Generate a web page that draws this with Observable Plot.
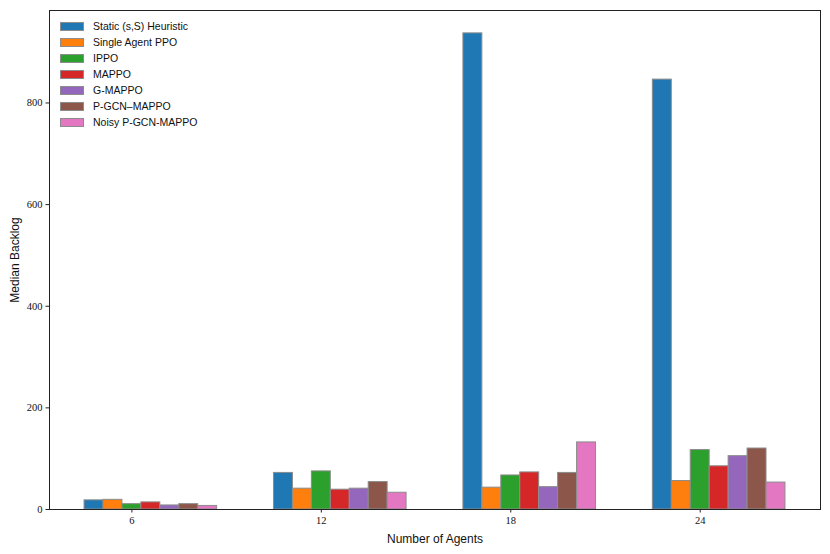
<!DOCTYPE html>
<html><head><meta charset="utf-8">
<script src="https://cdn.jsdelivr.net/npm/d3@7"></script>
<script src="https://cdn.jsdelivr.net/npm/@observablehq/plot@0.6"></script>
<style>
body{margin:0;background:#fff}
#wrap{position:relative;width:830px;height:554px}
.legend{position:absolute;left:60px;top:18px;font-family:"Liberation Sans",sans-serif;font-size:10.5px;color:#111}
.row{display:flex;align-items:center;height:16px}
.sw{width:22px;height:7px;border:1px solid #8c8c8c;margin-right:9px}
svg g[aria-label$="tick label"] text{font-family:"Liberation Serif",serif;font-size:10.5px}
svg g[aria-label$="axis label"] text{font-family:"Liberation Sans",sans-serif;font-size:12px}
</style></head><body><div id="wrap"></div>
<script>
const agents = [6, 12, 18, 24];
const methods = ["Static (s,S) Heuristic", "Single Agent PPO", "IPPO", "MAPPO", "G-MAPPO", "P-GCN\u2013MAPPO", "Noisy P-GCN-MAPPO"];
const colors = ["#1f77b4", "#ff7f0e", "#2ca02c", "#d62728", "#9467bd", "#8c564b", "#e377c2"];
const staticSS = [18, 72, 937, 846];
const singlePPO = [19, 41, 43, 56];
const ippo = [10.5, 75, 67, 117];
const mappo = [14, 39, 73, 85];
const gMappo = [8, 41, 44, 105];
const pgcnMappo = [10.5, 54, 72, 120];
const noisyPgcn = [7, 33, 132, 53];
const yTicks = [0, 200, 400, 600, 800];

const series = [staticSS, singlePPO, ippo, mappo, gMappo, pgcnMappo, noisyPgcn];
const barWidth = 0.6;
const data = [];
series.forEach((vals, i) => vals.forEach((v, j) => data.push({method: methods[i], idx: i, agents: agents[j], value: v})));

const chart = Plot.plot({
  width: 830, height: 554,
  marginLeft: 49, marginRight: 10, marginTop: 10, marginBottom: 45,
  x: {domain: [3.39, 27.81]},
  y: {domain: [0, 982]},
  color: {domain: methods, range: colors},
  marks: [
    Plot.rectY(data, {
      x1: d => d.agents + (d.idx - 2) * barWidth - barWidth / 2,
      x2: d => d.agents + (d.idx - 2) * barWidth + barWidth / 2,
      y: "value", fill: "method", stroke: "#8c8c8c", strokeWidth: 1
    }),
    Plot.frame({stroke: "#222"}),
    Plot.axisX({ticks: agents, tickFormat: d => String(d), tickSize: 3.5, tickPadding: 3.5, label: "Number of Agents", labelAnchor: "center", labelArrow: "none", labelOffset: 33, stroke: "#222", fill: "#111"}),
    Plot.axisY({ticks: yTicks, tickFormat: d => String(d), tickSize: 3.5, tickPadding: 3.5, label: "Median Backlog", labelAnchor: "center", labelArrow: "none", labelOffset: 39, stroke: "#222", fill: "#111"})
  ]
});
const wrap = document.getElementById("wrap");
wrap.appendChild(chart);
const leg = document.createElement("div");
leg.className = "legend";
methods.forEach((m, i) => {
  const r = document.createElement("div");
  r.className = "row";
  const s = document.createElement("div");
  s.className = "sw";
  s.style.background = colors[i];
  const t = document.createElement("span");
  t.textContent = m;
  r.appendChild(s); r.appendChild(t);
  leg.appendChild(r);
});
wrap.appendChild(leg);
</script></body></html>
